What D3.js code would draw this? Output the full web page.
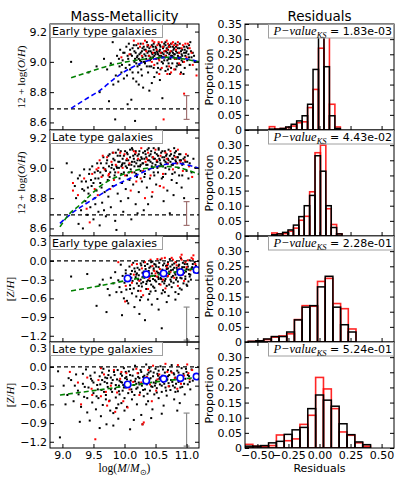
<!DOCTYPE html>
<html><head><meta charset="utf-8">
<script src="https://cdn.jsdelivr.net/npm/d3@7"></script>
<style>
body{margin:0;background:#fff;}
svg{display:block;}
</style></head><body>
<svg id="c" width="415" height="485"></svg>
<script>
// ---------------- DATA ----------------
const massTicks = [9.0, 9.5, 10.0, 10.5, 11.0];
const ohTicks = [8.6, 8.8, 9.0, 9.2];
const zhTicks = [-1.2, -0.9, -0.6, -0.3, 0.0, 0.3];
const propTicks = [0, 0.05, 0.10, 0.15, 0.20, 0.25, 0.30, 0.35];
const resTicks = [-0.5, -0.25, 0, 0.25, 0.5];
const panelLabels = ["Early type galaxies", "Late type galaxies", "Early type galaxies", "Late type galaxies"];
const pValues = ["1.83e-03", "4.43e-02", "2.28e-01", "5.24e-01"];

const earlyOHBlack = [
[9.14,9.00],[9.42,8.93],[9.55,8.97],[9.60,8.80],[9.67,9.02],[9.72,8.95],[9.75,8.74],[9.78,8.99],[9.81,9.13],[9.82,8.85],[9.85,8.62],[9.86,8.91],[9.88,9.04],[9.90,8.87],[9.92,8.97],[9.93,9.08],[9.95,8.93],[9.97,9.01],[9.99,8.89],[10.00,9.06],
[10.02,8.96],[10.03,9.10],[10.05,8.72],[10.06,9.02],[10.08,8.98],[10.09,9.08],[10.11,8.75],[10.12,9.04],[10.13,8.93],[10.14,8.89],[10.15,9.11],[10.16,9.00],[10.17,8.61],[10.18,9.06],[10.19,8.87],[10.20,9.03],[10.21,8.97],[10.22,9.09],[10.23,8.85],[10.24,9.05],
[10.25,9.01],[10.26,9.12],[10.27,8.95],[10.28,9.07],[10.29,9.03],[10.30,8.83],[10.31,9.10],[10.32,9.05],[10.33,8.99],[10.34,9.08],[10.35,9.02],[10.36,9.13],[10.37,9.06],[10.38,8.93],[10.39,9.04],[10.40,9.09],[10.41,9.01],[10.42,9.07],[10.43,8.97],[10.44,9.11],
[10.45,9.05],[10.46,9.03],[10.47,9.08],[10.48,8.90],[10.49,9.06],[10.50,9.10],[10.51,9.02],[10.52,9.07],[10.53,8.99],[10.54,9.05],[10.55,9.12],[10.56,9.04],[10.57,9.08],[10.58,8.95],[10.59,9.06],[10.60,9.03],[10.61,8.76],[10.62,9.09],[10.63,9.05],[10.64,9.01],
[10.65,9.07],[10.66,9.11],[10.67,9.04],[10.68,8.97],[10.69,9.06],[10.70,9.08],[10.71,9.02],[10.72,9.05],[10.73,8.92],[10.74,9.10],[10.75,9.04],[10.76,9.07],[10.77,8.99],[10.78,9.06],[10.79,9.03],[10.80,9.09],[10.81,9.05],[10.82,8.95],[10.83,9.07],[10.84,9.02],
[10.85,9.11],[10.86,9.04],[10.87,8.98],[10.88,9.06],[10.89,9.09],[10.90,9.03],[10.91,8.93],[10.92,9.05],[10.93,9.08],[10.94,9.00],[10.96,9.06],[10.97,8.96],[10.98,9.04],[11.00,9.07],[11.01,9.01],[11.03,9.05],[11.05,8.98],[11.06,9.13],[11.08,9.03],[11.10,9.06],
[11.13,9.00],[11.16,8.95],[10.28,8.91],[10.44,8.86],[10.52,8.93],[10.57,8.88],[10.66,8.94],[10.36,8.97],[10.40,8.81],[10.22,8.93],[10.62,8.99],[10.75,8.96],[10.85,8.99],[10.95,8.92],[10.71,8.99],[10.47,8.96],[10.33,9.00],[10.19,8.99],[10.05,9.04],[9.98,9.06],
[10.16,9.07],[10.19,9.11],[10.23,9.02],[10.26,9.06],[10.29,9.09],[10.31,9.00],[10.34,9.04],[10.37,9.10],[10.39,9.07],[10.42,9.03],[10.44,9.06],[10.46,9.10],[10.48,9.04],[10.51,9.09],[10.53,9.06],[10.55,9.02],[10.57,9.11],[10.59,9.04],[10.61,9.06],[10.63,9.10],
[10.65,9.03],[10.67,9.07],[10.69,9.01],[10.71,9.10],[10.73,9.06],[10.75,9.12],[10.77,9.04],[10.79,9.08],[10.81,9.02],[10.83,9.10],[10.85,9.06],[10.87,9.03],[10.89,9.12],[10.91,9.07],[10.93,9.04],[10.96,9.10],[10.99,9.06],[11.02,9.09],[11.04,9.03],[11.07,9.07],
[10.21,9.04],[10.32,9.08],[10.43,9.02],[10.50,9.05],[10.56,9.07],[10.62,9.03],[10.68,9.09],[10.74,9.02],[10.80,9.05],[10.86,9.09],[10.92,9.01],[10.97,9.08],[10.27,9.00],[10.38,9.11],[10.47,9.12],[10.58,9.10],[10.64,9.12],[10.78,9.10],[10.88,9.02],[11.00,9.10],
[10.24,8.98],[10.40,8.97],[10.54,8.96],[10.70,8.95],[10.84,8.97],[11.04,9.11],[11.12,9.04],[10.17,9.02],[10.13,9.09],[10.10,9.05],[10.60,9.00],[10.66,9.13],[10.72,9.11],[10.82,9.12],[10.90,8.98],[9.96,8.98],[10.04,8.91],[10.09,8.95],[9.91,9.02],[10.07,9.12]
];
const earlyOHRed = [
[10.08,9.05],[10.15,9.14],[10.25,9.10],[10.30,9.12],[10.35,9.07],[10.40,9.04],[10.42,9.10],[10.45,9.14],[10.48,8.98],[10.50,9.02],[10.52,9.08],[10.55,9.13],[10.58,9.06],[10.60,8.96],[10.62,9.10],[10.63,8.62],[10.66,9.04],[10.70,9.12],[10.72,8.97],[10.74,9.07],
[10.75,8.93],[10.78,9.13],[10.80,8.95],[10.82,9.02],[10.85,9.11],[10.88,9.06],[10.90,8.92],[10.92,9.09],[10.96,9.00],[10.96,8.79],[10.98,9.12],[11.00,9.03],[11.05,9.09],[11.10,8.98],[11.16,8.91],[10.38,9.01],[10.68,9.08],[10.46,9.06],[10.56,9.01],[10.83,9.08],
[10.28,9.04],[9.95,9.03],[10.22,9.12],[10.33,9.14],[10.37,9.11],[10.48,9.13],[10.53,9.11],[10.60,9.13],[10.68,9.14],[10.72,9.10],[10.76,9.12],[10.80,9.11],[10.86,9.13],[10.94,9.11],[11.02,9.12],[10.64,9.07],[10.44,9.00],[10.88,8.99],[11.08,9.06],[10.56,8.92],[10.69,8.92]
];
const earlyOHGreen = [[9.14,8.895],[9.4,8.93],[9.6,8.957],[9.8,8.98],[10.0,8.998],[10.3,9.017],[10.5,9.027],[10.7,9.03],[10.9,9.022],[11.2,9.0]];
const earlyOHBlue = [[9.14,8.693],[9.4,8.76],[9.6,8.81],[9.87,8.90],[10.14,8.968],[10.41,9.012],[10.68,9.03],[10.95,9.023],[11.2,9.0]];

const lateOHBlack = [
[9.07,9.03],[9.15,8.97],[9.20,8.88],[9.22,8.80],[9.25,8.93],[9.26,8.63],[9.28,8.95],[9.30,8.72],[9.32,8.86],[9.33,8.60],[9.35,8.99],[9.37,8.78],[9.38,8.91],[9.40,8.69],[9.42,8.83],[9.43,8.96],[9.45,8.74],[9.47,8.88],[9.48,9.01],[9.50,8.66],
[9.52,8.80],[9.53,8.93],[9.55,8.85],[9.57,8.98],[9.58,8.71],[9.60,8.62],[9.61,8.90],[9.62,9.03],[9.64,8.77],[9.65,8.95],[9.66,9.07],[9.68,8.84],[9.69,8.99],[9.70,8.68],[9.72,9.05],[9.73,8.92],[9.74,8.81],[9.76,9.09],[9.77,8.97],[9.78,8.74],
[9.80,9.02],[9.81,8.88],[9.82,9.06],[9.84,8.95],[9.85,8.65],[9.86,9.10],[9.87,8.59],[9.88,9.00],[9.89,8.83],[9.90,9.04],[9.92,8.93],[9.93,9.08],[9.94,8.78],[9.95,9.01],[9.96,8.90],[9.97,9.06],[9.98,8.71],[9.99,8.97],[10.00,9.03],[10.01,9.11],
[10.02,8.86],[10.03,9.05],[10.04,8.95],[10.05,9.09],[10.06,8.80],[10.07,9.02],[10.08,8.92],[10.09,9.07],[10.10,8.99],[10.11,8.66],[10.12,9.04],[10.13,9.12],[10.14,8.89],[10.15,9.06],[10.16,8.97],[10.17,9.09],[10.18,8.76],[10.19,9.03],[10.20,8.94],[10.21,9.08],
[10.22,9.01],[10.23,8.84],[10.24,9.11],[10.25,9.05],[10.26,8.98],[10.27,9.07],[10.28,8.91],[10.29,9.03],[10.30,9.10],[10.31,8.72],[10.32,9.06],[10.33,8.96],[10.34,9.09],[10.35,9.02],[10.36,8.87],[10.37,9.12],[10.38,9.05],[10.39,8.99],[10.40,9.08],[10.41,8.93],
[10.42,9.04],[10.43,9.11],[10.44,8.81],[10.45,9.07],[10.46,9.00],[10.47,9.13],[10.48,8.95],[10.49,9.06],[10.50,9.02],[10.51,8.89],[10.52,9.09],[10.53,9.04],[10.54,8.97],[10.55,9.12],[10.56,9.06],[10.57,8.88],[10.58,9.03],[10.59,9.10],[10.60,8.93],[10.61,9.07],
[10.62,9.01],[10.63,8.78],[10.64,9.05],[10.65,9.11],[10.66,8.96],[10.67,9.08],[10.68,9.03],[10.69,8.85],[10.70,9.06],[10.71,9.12],[10.72,8.99],[10.73,8.70],[10.74,9.04],[10.75,9.09],[10.76,8.92],[10.77,9.06],[10.78,9.02],[10.79,8.82],[10.80,9.08],[10.81,8.97],
[10.82,9.05],[10.83,9.11],[10.84,8.90],[10.85,9.03],[10.86,9.07],[10.88,8.95],[10.89,9.05],[10.90,9.09],[10.92,8.87],[10.93,9.02],[10.95,9.06],[10.96,8.80],[10.98,9.04],[11.00,8.98],[11.02,9.08],[11.03,8.93],[11.05,9.03],[11.08,8.97],[11.11,9.06],[11.14,9.00],
[9.70,8.98],[9.75,9.01],[9.83,8.99],[9.91,9.00],[9.96,9.02],[10.04,9.00],[10.16,9.01],[10.26,9.02],[10.44,9.01],[10.53,9.00],[10.66,9.00],[10.87,9.00],[9.58,8.93],[9.63,8.87],[9.46,8.92],[9.41,8.87],[9.53,8.76],[9.67,8.72],[10.21,8.70],[10.38,8.76],
[9.71,9.03],[9.74,9.08],[9.79,9.00],[9.81,9.10],[9.84,9.05],[9.87,9.01],[9.89,9.08],[9.92,9.04],[9.94,9.11],[9.97,9.03],[9.99,9.08],[10.02,9.01],[10.04,9.10],[10.06,9.05],[10.09,9.12],[10.11,9.02],[10.14,9.08],[10.16,9.04],[10.18,9.11],[10.21,9.05],
[10.23,9.09],[10.25,9.01],[10.28,9.06],[10.30,9.03],[10.33,9.11],[10.35,9.07],[10.37,9.02],[10.40,9.05],[10.42,9.09],[10.45,9.03],[10.47,9.06],[10.49,9.10],[10.52,9.04],[10.54,9.08],[10.57,9.05],[10.59,9.02],[10.61,9.11],[10.64,9.07],[10.66,9.04],[10.68,9.09],
[10.71,9.05],[10.73,9.08],[10.76,9.02],[10.78,9.06],[10.81,9.10],[10.83,9.04],[10.85,9.07],[10.88,9.09],[10.91,9.05],[10.94,9.03],[10.97,9.07],[11.01,9.04],[9.76,8.94],[9.85,8.97],[9.95,8.96],[10.07,8.97],[10.19,8.96],[10.32,8.94],[10.47,8.97],[10.62,8.94],
[10.77,8.96],[10.93,8.95],[9.66,9.00],[9.61,8.97],[9.56,9.03],[9.52,8.97],[9.44,8.99],[9.50,8.90],[9.35,8.85],[9.31,8.91],[10.55,9.13],[10.39,9.13],[10.80,9.13],[10.12,9.13],[9.90,9.12]
];
const lateOHRed = [
[9.17,8.90],[9.17,8.85],[9.25,8.82],[9.44,8.64],[9.35,8.93],[9.48,8.96],[9.55,8.99],[9.60,9.05],[9.63,8.94],[9.68,8.99],[9.72,9.07],[9.75,8.96],[9.79,9.04],[9.83,8.92],[9.86,9.02],[9.90,8.97],[9.93,9.10],[9.97,9.00],[10.01,8.95],[10.04,9.06],
[10.08,9.03],[10.12,8.97],[10.15,9.11],[10.19,8.91],[10.22,9.06],[10.27,9.13],[10.30,8.98],[10.34,9.04],[10.38,9.10],[10.42,8.95],[10.46,9.07],[10.50,9.12],[10.55,9.01],[10.58,9.08],[10.62,8.96],[10.66,9.10],[10.70,9.03],[10.74,9.11],[10.78,8.99],[10.82,9.07],
[10.86,9.12],[10.90,9.04],[10.94,8.98],[10.99,9.09],[11.04,9.01],[11.09,8.94],[9.57,8.82],[9.77,8.86],[10.10,8.85],[10.33,8.80],[9.39,8.73],[10.57,8.88],
[9.65,9.08],[9.82,9.10],[10.00,9.09],[10.18,9.10],[10.36,9.06],[10.52,9.05],[10.68,9.06],[10.84,9.03],[10.97,9.05],[9.58,9.00],[9.74,8.95],[10.26,8.93],[10.63,8.87],[9.52,8.86],[10.45,8.84]
];
const lateOHGreen = [[8.96,8.61],[9.1,8.69],[9.28,8.755],[9.45,8.82],[9.6,8.876],[9.77,8.92],[9.93,8.95],[10.1,8.975],[10.25,8.99],[10.4,9.0],[10.57,9.01],[10.75,9.008],[10.89,9.0],[11.05,8.98],[11.2,8.957]];
const lateOHBlue = [[8.96,8.634],[9.15,8.70],[9.39,8.766],[9.6,8.82],[9.77,8.865],[9.95,8.905],[10.14,8.94],[10.33,8.978],[10.52,9.008],[10.7,9.025],[10.84,9.03],[11.0,9.02],[11.2,8.997]];

const earlyZHBlack = [
[9.14,-0.25],[9.40,-0.21],[9.55,-0.72],[9.60,-0.38],[9.65,-0.30],[9.71,-0.82],[9.73,-0.45],[9.76,-0.55],[9.78,-0.27],[9.82,-0.36],[9.85,-0.18],[9.87,-0.50],[9.90,-0.31],[9.92,-0.42],[9.94,-0.06],[9.96,-0.87],[9.97,-0.24],[9.99,-0.60],[10.00,-0.35],[10.02,-0.15],
[10.03,-0.46],[10.05,-0.28],[10.06,-0.68],[10.08,-0.09],[10.09,-0.39],[10.10,-0.21],[10.12,-0.52],[10.13,-0.32],[10.14,-0.03],[10.15,-0.44],[10.17,-0.17],[10.18,-0.26],[10.19,-0.57],[10.20,-0.36],[10.21,-0.11],[10.22,-0.48],[10.23,-0.23],[10.25,-0.63],[10.26,-0.30],[10.27,-0.07],
[10.28,-0.41],[10.29,-0.19],[10.30,-0.34],[10.31,-0.02],[10.32,-0.27],[10.33,-0.95],[10.34,-0.13],[10.35,-0.45],[10.36,-0.22],[10.37,-0.05],[10.38,-0.31],[10.39,-0.16],[10.40,-0.53],[10.41,-0.25],[10.42,-0.09],[10.43,-0.38],[10.44,-0.20],[10.45,-0.01],[10.46,-0.29],[10.47,-0.12],
[10.48,-0.43],[10.49,-0.24],[10.50,-0.06],[10.51,-0.33],[10.52,-0.17],[10.53,-0.61],[10.54,-0.26],[10.55,-0.10],[10.56,-0.37],[10.57,-0.20],[10.58,0.02],[10.59,-0.29],[10.60,-1.08],[10.61,-0.14],[10.62,-0.47],[10.63,-0.23],[10.64,-0.04],[10.65,-0.32],[10.66,-0.18],[10.67,-0.08],
[10.68,-0.40],[10.69,-0.25],[10.70,-0.12],[10.71,-0.56],[10.72,-0.21],[10.73,0.03],[10.74,-0.30],[10.75,-0.15],[10.76,-0.42],[10.77,-0.06],[10.78,-0.24],[10.79,-0.35],[10.80,-0.11],[10.81,-0.19],[10.82,-0.50],[10.83,-0.02],[10.84,-0.27],[10.85,-0.14],[10.86,-0.33],[10.87,-0.08],
[10.88,-0.22],[10.89,-0.44],[10.90,-0.16],[10.91,0.04],[10.92,-0.28],[10.93,-0.10],[10.95,-0.36],[10.96,-0.19],[10.97,-0.05],[10.98,-0.25],[11.00,-0.13],[11.01,-0.40],[11.02,-0.09],[11.04,-0.21],[11.05,0.01],[11.07,-0.30],[11.08,-0.12],[11.10,-0.05],[11.12,-0.18],[11.15,-0.08],
[10.16,-0.74],[10.24,-0.85],[10.44,-0.70],[10.55,-0.78],[10.68,-0.66],[10.27,-0.58],[9.95,-0.50],[10.04,-0.64],[10.38,-0.62],[10.82,-0.62],[10.50,-0.48],[10.60,-0.52],[10.35,-0.37],[10.46,-0.41],[10.64,-0.36],[10.72,-0.38],[10.92,-0.46],[11.03,-0.33],[10.11,-0.27],[10.02,-0.20],
[10.16,-0.12],[10.19,-0.22],[10.22,-0.30],[10.24,-0.14],[10.26,-0.04],[10.29,-0.26],[10.31,-0.17],[10.33,-0.08],[10.36,-0.33],[10.38,-0.20],[10.40,-0.11],[10.43,-0.02],[10.45,-0.24],[10.47,-0.15],[10.49,-0.31],[10.51,-0.09],[10.54,-0.19],[10.56,-0.03],[10.58,-0.27],[10.60,-0.16],
[10.62,-0.07],[10.64,-0.21],[10.66,-0.29],[10.68,-0.13],[10.70,-0.02],[10.72,-0.17],[10.74,-0.09],[10.76,-0.26],[10.78,-0.14],[10.80,-0.04],[10.82,-0.22],[10.84,-0.11],[10.86,-0.18],[10.88,-0.06],[10.90,-0.27],[10.92,-0.13],[10.94,-0.03],[10.96,-0.10],[10.99,-0.17],[11.01,-0.05],
[11.03,-0.14],[11.06,-0.22],[11.09,-0.10],[11.13,-0.02],[10.20,-0.20],[10.27,-0.36],[10.34,-0.25],[10.41,-0.32],[10.48,-0.05],[10.55,-0.29],[10.61,-0.33],[10.69,-0.07],[10.75,-0.33],[10.83,-0.30],[10.91,-0.20],[10.98,-0.29],[11.05,-0.25],[10.12,-0.16],[10.07,-0.24],[10.09,-0.45],
[10.23,-0.40],[10.42,-0.49],[10.65,-0.50],[10.87,-0.53],[11.00,-0.38]
];
const earlyZHRed = [
[9.90,-0.02],[10.20,-0.05],[10.28,-0.12],[10.33,-0.02],[10.40,-0.28],[10.45,-0.08],[10.50,-0.20],[10.53,0.03],[10.57,-0.13],[10.62,-0.30],[10.65,0.05],[10.70,-0.05],[10.74,-0.18],[10.78,0.02],[10.80,-0.27],[10.84,-0.07],[10.88,-0.12],[10.90,0.06],[10.94,-0.22],[10.98,-0.02],
[11.02,0.01],[11.06,-0.15],[11.10,0.03],[11.11,0.09],[11.14,-0.05],[10.01,-0.65],[10.02,-0.40],[10.12,-0.35],[10.26,-0.48],[10.38,-0.45],[10.58,-0.38],[10.66,-0.44],[10.86,-0.40],[10.96,-0.32],[10.48,-0.16],[10.24,-0.32],[10.70,-0.24],[10.12,-0.06],
[10.42,0.02],[10.60,0.04],[10.68,-0.10],[10.76,0.05],[10.82,-0.02],[10.92,0.02],[11.00,-0.10],[11.08,0.05],[10.52,-0.25],[10.36,-0.18],[10.92,0.10],[11.12,-0.12],[10.30,-0.55],[10.15,-0.22]
];
const earlyZHGreen = [[9.14,-0.48],[9.6,-0.40],[10.0,-0.32],[10.5,-0.23],[11.16,-0.12]];
const earlyZHCircles = [[10.05,-0.28],[10.35,-0.215],[10.63,-0.20],[10.90,-0.18],[11.16,-0.145]];

const lateZHBlack = [
[8.93,-0.07],[8.96,-1.13],[9.02,-0.30],[9.08,-0.45],[9.14,-0.21],[9.18,-0.55],[9.22,-0.12],[9.25,-0.38],[9.28,-0.88],[9.30,-0.64],[9.33,-0.27],[9.35,-0.48],[9.38,-0.04],[9.40,-0.73],[9.42,-0.33],[9.44,-0.86],[9.46,-0.19],[9.48,-0.57],[9.50,-0.42],[9.52,-0.09],
[9.54,-0.68],[9.56,-0.29],[9.58,-0.50],[9.60,-0.15],[9.62,-0.79],[9.63,-0.37],[9.65,-0.61],[9.66,-0.03],[9.68,-0.24],[9.70,-0.45],[9.71,-0.92],[9.73,-0.32],[9.74,-0.13],[9.76,-0.54],[9.77,-0.70],[9.79,-0.26],[9.80,-0.40],[9.82,-0.74],[9.83,-0.08],[9.85,-0.35],
[9.86,-0.49],[9.87,-0.66],[9.88,-0.20],[9.90,-0.83],[9.91,-0.30],[9.92,-0.44],[9.94,-0.11],[9.95,-0.58],[9.96,-0.25],[9.97,-0.38],[9.99,-0.02],[10.00,-0.50],[10.01,-0.18],[10.02,-0.33],[10.04,-0.64],[10.05,-0.27],[10.06,-0.42],[10.07,-0.07],[10.09,-1.00],[10.10,-0.22],
[10.11,-0.36],[10.12,-0.52],[10.13,-0.14],[10.15,-0.29],[10.16,-0.45],[10.17,0.02],[10.18,-0.19],[10.20,-0.60],[10.21,-0.33],[10.22,-0.10],[10.23,-0.25],[10.25,-0.41],[10.26,-0.05],[10.27,-0.77],[10.28,-0.30],[10.30,-0.16],[10.31,-0.47],[10.32,-0.23],[10.33,-0.36],[10.35,0.04],
[10.36,-0.28],[10.37,-0.12],[10.38,-0.55],[10.40,-0.20],[10.41,-0.38],[10.42,-0.07],[10.43,-0.31],[10.45,-0.68],[10.46,-0.15],[10.47,-0.25],[10.48,-0.44],[10.50,-0.03],[10.51,-0.22],[10.52,-0.34],[10.53,-0.11],[10.55,-0.50],[10.56,-0.19],[10.57,-0.28],[10.58,0.01],[10.60,-0.40],
[10.61,-0.14],[10.62,-0.24],[10.63,-0.62],[10.65,-0.09],[10.66,-0.33],[10.67,-0.18],[10.68,-0.46],[10.70,-0.05],[10.71,-0.26],[10.72,-0.13],[10.74,-0.37],[10.75,-0.21],[10.76,0.03],[10.78,-0.30],[10.79,-0.10],[10.80,-0.52],[10.82,-0.17],[10.83,-0.27],[10.85,-0.06],[10.86,-0.39],
[10.88,-0.14],[10.89,-0.58],[10.90,-0.23],[10.92,-0.02],[10.93,-0.32],[10.95,-0.11],[10.97,-0.44],[10.98,-0.19],[11.00,-0.08],[11.02,-0.28],[11.04,-0.15],[11.06,-0.36],[11.08,-0.04],[11.10,-0.22],[9.82,-0.94],[9.87,-0.66],[10.29,-0.92],[9.60,-0.98],[10.15,-0.85],[10.43,-0.82],
[9.50,-0.25],[9.64,-0.21],[9.78,-0.17],[9.92,-0.22],[10.03,-0.16],[10.19,-0.27],[10.34,-0.19],[10.49,-0.30],[10.64,-0.27],[10.81,-0.33],[9.36,-0.32],[9.45,-0.14],[9.57,-0.36],[9.72,-0.18],[9.98,-0.29],[10.24,-0.18],[10.39,-0.09],[10.54,-0.14],[10.69,-0.20],[10.87,-0.24],
[9.61,-0.28],[9.64,-0.09],[9.67,-0.40],[9.69,-0.17],[9.72,-0.26],[9.75,-0.06],[9.78,-0.36],[9.81,-0.21],[9.84,-0.13],[9.86,-0.29],[9.89,-0.05],[9.91,-0.39],[9.94,-0.24],[9.96,-0.14],[9.99,-0.33],[10.02,-0.08],[10.04,-0.20],[10.07,-0.30],[10.09,-0.13],[10.12,-0.40],
[10.14,-0.04],[10.17,-0.23],[10.19,-0.35],[10.22,-0.16],[10.24,-0.28],[10.27,-0.08],[10.30,-0.37],[10.32,-0.14],[10.35,-0.24],[10.37,-0.43],[10.40,-0.02],[10.42,-0.18],[10.45,-0.32],[10.47,-0.09],[10.50,-0.26],[10.52,-0.41],[10.55,-0.06],[10.57,-0.17],[10.60,-0.30],[10.62,-0.04],
[10.65,-0.22],[10.67,-0.38],[10.70,-0.15],[10.72,-0.31],[10.75,-0.07],[10.77,-0.24],[10.80,-0.12],[10.82,-0.40],[10.85,-0.20],[10.87,-0.09],[10.90,-0.33],[10.93,-0.16],[10.96,-0.27],[10.99,-0.03],[11.02,-0.13],[11.05,-0.24],[9.55,-0.47],[9.48,-0.22],[9.40,-0.50],[9.33,-0.11],
[9.26,-0.44],[9.20,-0.30],[9.10,-0.18],[9.05,-0.60],[9.70,-0.52],[10.00,-0.70],[10.35,-0.60],[10.60,-0.75],[10.85,-0.70],[9.90,-0.60]
];
const lateZHRed = [
[9.12,-0.08],[9.25,-0.25],[9.30,-0.60],[9.40,-0.17],[9.47,-0.35],[9.53,-1.16],[9.58,-0.21],[9.62,-0.47],[9.67,-0.12],[9.72,-0.62],[9.78,-0.30],[9.83,-0.05],[9.88,-0.41],[9.93,-0.19],[9.98,-0.55],[10.03,-0.10],[10.08,-0.36],[10.14,-0.24],[10.19,-0.03],[10.24,-0.45],
[10.29,-0.92],[10.31,-0.89],[10.36,-0.16],[10.41,-0.28],[10.46,0.02],[10.51,-0.38],[10.56,-0.12],[10.61,-0.22],[10.66,0.05],[10.71,-0.31],[10.76,-0.09],[10.81,-0.18],[10.86,0.03],[10.91,-0.27],[10.96,-0.14],[11.01,0.04],[11.05,-0.20],[11.09,-0.05],[10.05,-0.65],[9.85,-0.72],
[10.44,-0.55],[9.70,-0.40],[9.62,-0.02],[9.95,-0.08],[10.21,-0.10],[10.38,-0.05],[10.53,-0.20],[10.69,-0.08],[10.88,-0.15],[11.03,-0.10],[9.48,-0.45],[9.75,-0.55],[10.27,-0.25],[10.85,-0.35]
];
const lateZHGreen = [[8.96,-0.45],[9.5,-0.38],[10.0,-0.31],[10.5,-0.24],[11.16,-0.17]];
const lateZHCircles = [[10.05,-0.28],[10.35,-0.22],[10.63,-0.19],[10.90,-0.18],[11.16,-0.155]];

const ohSolarLine = 8.69;
const zhSolarLine = 0.0;
const ohErrorBar = [11.0, 8.62, 8.777];
const zhErrorBar = [11.0, -1.27, -0.74];

const histBinStart = [-0.404, -0.384, -0.574, -0.60];
const histBinWidth = [0.044, 0.0435, 0.062, 0.0632];
const hist1Black = [0.003,0.003,0.005,0.010,0.019,0.030,0.047,0.085,0.200,0.310,0.209,0.047,0.005];
const hist1Red   = [0.011,0.003,0.005,0.008,0.013,0.024,0.027,0.074,0.134,0.270,0.360,0.085,0.010];
const hist2Black = [0.004,0.007,0.012,0.020,0.036,0.064,0.100,0.134,0.265,0.214,0.100,0.028,0.007];
const hist2Red   = [0.010,0.007,0.008,0.016,0.026,0.052,0.065,0.146,0.275,0.300,0.090,0.038,0.007];
const hist3Black = [0.002,0.004,0.010,0.018,0.018,0.033,0.073,0.115,0.120,0.182,0.217,0.115,0.057,0.033];
const hist3Red   = [0.002,0.004,0.008,0.016,0.020,0.027,0.074,0.120,0.118,0.200,0.210,0.127,0.110,0.043];
const hist4Black = [0.006,0.006,0.008,0.017,0.022,0.045,0.060,0.068,0.130,0.175,0.158,0.138,0.080,0.044,0.020,0.011];
const hist4Red   = [0.012,0.006,0.006,0.008,0.043,0.024,0.030,0.078,0.108,0.233,0.195,0.130,0.053,0.042,0.017,0.006];

// ---------------- LAYOUT ----------------
const svg = d3.select("#c");
const SANS = "DejaVu Sans";
const SERIF = "Liberation Serif";
const colL = [50, 199], colR = [245, 394];
const top0 = 24, rowH = 106;
const rowTop = i => top0 + i * rowH;
const xMass = d3.scaleLinear([8.8, 11.2], colL);
const xRes = d3.scaleLinear([-0.6, 0.6], colR);

const defs = svg.append("defs");
function clip(id, x0, x1, y0, y1) {
  defs.append("clipPath").attr("id", id).append("rect")
    .attr("x", x0).attr("y", y0).attr("width", x1 - x0).attr("height", y1 - y0);
  return `url(#${id})`;
}

function styleAxis(g, showLabels) {
  g.select(".domain").remove();
  g.attr("font-family", SANS).attr("font-size", 11);
  g.selectAll(".tick line").attr("stroke", "#000").attr("stroke-width", 1);
  g.selectAll(".tick text").attr("fill", "#000");
  if (!showLabels) g.selectAll(".tick text").remove();
}

function axes(x, y, xt, yt, xFmt, yFmt, yLabelFilter, showX) {
  const [x0, x1] = x.range();
  const [y1, y0] = y.range();
  const gl = svg.append("g").attr("transform", `translate(${x0},0)`)
    .call(d3.axisLeft(y).tickValues(yt).tickSize(-4).tickSizeOuter(0).tickPadding(3).tickFormat(yFmt));
  styleAxis(gl, true);
  gl.selectAll(".tick").filter(d => !yLabelFilter(d)).select("text").remove();
  const gr = svg.append("g").attr("transform", `translate(${x1},0)`)
    .call(d3.axisRight(y).tickValues(yt).tickSize(-4).tickSizeOuter(0));
  styleAxis(gr, false);
  const gt = svg.append("g").attr("transform", `translate(0,${y0})`)
    .call(d3.axisTop(x).tickValues(xt).tickSize(-4).tickSizeOuter(0));
  styleAxis(gt, false);
  const gb = svg.append("g").attr("transform", `translate(0,${y1})`)
    .call(d3.axisBottom(x).tickValues(xt).tickSize(-4).tickSizeOuter(0).tickPadding(3).tickFormat(xFmt));
  styleAxis(gb, showX);
}

function frame(x0, x1, y0, y1) {
  svg.append("rect").attr("x", x0).attr("y", y0).attr("width", x1 - x0).attr("height", y1 - y0)
    .attr("fill", "none").attr("stroke", "#000").attr("stroke-width", 1);
}

const f1 = d3.format(".1f");
const f2 = d3.format(".2f");
const propFmt = d => d === 0 ? "0" : f2(d);

const scatterPanels = [
  {black: earlyOHBlack, red: earlyOHRed, green: earlyOHGreen, blue: earlyOHBlue, circles: null, dom: [8.55, 9.25], ticks: ohTicks, ref: ohSolarLine, err: ohErrorBar, errColor: "#a07272", type: "oh"},
  {black: lateOHBlack, red: lateOHRed, green: lateOHGreen, blue: lateOHBlue, circles: null, dom: [8.55, 9.25], ticks: ohTicks, ref: ohSolarLine, err: ohErrorBar, errColor: "#a07272", type: "oh"},
  {black: earlyZHBlack, red: earlyZHRed, green: earlyZHGreen, blue: null, circles: earlyZHCircles, dom: [-1.3, 0.4], ticks: zhTicks, ref: zhSolarLine, err: zhErrorBar, errColor: "#8a8a8a", type: "zh"},
  {black: lateZHBlack, red: lateZHRed, green: lateZHGreen, blue: null, circles: lateZHCircles, dom: [-1.3, 0.4], ticks: zhTicks, ref: zhSolarLine, err: zhErrorBar, errColor: "#8a8a8a", type: "zh"}
];
const histPanels = [
  {black: hist1Black, red: hist1Red},
  {black: hist2Black, red: hist2Red},
  {black: hist3Black, red: hist3Red},
  {black: hist4Black, red: hist4Red}
];

// ---------------- LEFT COLUMN ----------------
scatterPanels.forEach((p, i) => {
  const t = rowTop(i), b = t + rowH;
  const y = d3.scaleLinear(p.dom, [b, t]);
  const cp = clip("cl" + i, colL[0], colL[1], t, b);
  const g = svg.append("g").attr("clip-path", cp);
  g.selectAll(".kb").data(p.black).join("rect")
    .attr("x", d => xMass(d[0]) - 1).attr("y", d => y(d[1]) - 1).attr("width", 2).attr("height", 2).attr("fill", "#000");
  g.selectAll(".kr").data(p.red).join("rect")
    .attr("x", d => xMass(d[0]) - 1).attr("y", d => y(d[1]) - 1).attr("width", 2).attr("height", 2).attr("fill", "#ff0000");
  g.append("line").attr("x1", colL[0]).attr("x2", colL[1]).attr("y1", y(p.ref)).attr("y2", y(p.ref))
    .attr("stroke", "#000").attr("stroke-width", 1.2).attr("stroke-dasharray", "4,3");
  const line = d3.line().x(d => xMass(d[0])).y(d => y(d[1])).curve(d3.curveMonotoneX);
  if (p.blue) g.append("path").attr("d", line(p.blue)).attr("fill", "none").attr("stroke", "#0000ff").attr("stroke-width", 1.6).attr("stroke-dasharray", "5,3");
  g.append("path").attr("d", line(p.green)).attr("fill", "none").attr("stroke", "#008000").attr("stroke-width", 1.6).attr("stroke-dasharray", "5,3");
  const ex = xMass(p.err[0]);
  g.append("line").attr("x1", ex).attr("x2", ex).attr("y1", y(p.err[1])).attr("y2", y(p.err[2])).attr("stroke", p.errColor).attr("stroke-width", 1.2);
  [p.err[1], p.err[2]].forEach(v => g.append("line").attr("x1", ex - 3).attr("x2", ex + 3).attr("y1", y(v)).attr("y2", y(v)).attr("stroke", p.errColor).attr("stroke-width", 1.2));
  if (p.circles) g.selectAll(".cc").data(p.circles).join("circle")
    .attr("cx", d => xMass(d[0])).attr("cy", d => y(d[1])).attr("r", 3.2)
    .attr("fill", "#fff").attr("stroke", "#0000ff").attr("stroke-width", 1.6);
  axes(xMass, y, massTicks, p.ticks, f1, f1, () => true, i === 3);
  frame(colL[0], colL[1], t, b);
  svg.append("rect").attr("x", colL[0] + 0.5).attr("y", t + 0.5).attr("width", 112).attr("height", 13)
    .attr("fill", "#fff").attr("stroke", "#a0a0a0").attr("stroke-width", 1);
  svg.append("text").attr("x", colL[0] + 2).attr("y", t + 10.5).attr("font-family", SANS).attr("font-size", 11)
    .attr("fill", "#000").text(panelLabels[i]);
  const cy = (t + b) / 2;
  if (p.type === "oh") {
    const tx = svg.append("text").attr("transform", `translate(25,${cy}) rotate(-90)`).attr("text-anchor", "middle")
      .attr("font-family", SERIF).attr("font-size", 11).attr("fill", "#000");
    tx.append("tspan").text("12 + log(");
    tx.append("tspan").attr("font-style", "italic").text("O");
    tx.append("tspan").text("/");
    tx.append("tspan").attr("font-style", "italic").text("H");
    tx.append("tspan").text(")");
  } else {
    const tx = svg.append("text").attr("transform", `translate(14,${cy}) rotate(-90)`).attr("text-anchor", "middle")
      .attr("font-family", SERIF).attr("font-size", 11).attr("fill", "#000");
    tx.append("tspan").text("[");
    tx.append("tspan").attr("font-style", "italic").text("Z");
    tx.append("tspan").text("/");
    tx.append("tspan").attr("font-style", "italic").text("H");
    tx.append("tspan").text("]");
  }
});

// ---------------- RIGHT COLUMN ----------------
histPanels.forEach((p, i) => {
  const t = rowTop(i), b = t + rowH;
  const y = d3.scaleLinear([0, 0.35], [b, t]);
  const cp = clip("cr" + i, colR[0], colR[1], t, b);
  const g = svg.append("g").attr("clip-path", cp);
  const s = histBinStart[i], w = histBinWidth[i];
  g.selectAll(".hr").data(p.red).join("rect")
    .attr("x", (d, k) => xRes(s + k * w)).attr("width", (d, k) => xRes(s + (k + 1) * w) - xRes(s + k * w))
    .attr("y", d => y(d)).attr("height", d => y(0) - y(d))
    .attr("fill", "none").attr("stroke", "#ff0000").attr("stroke-width", 1.6).attr("stroke-opacity", 0.85);
  g.selectAll(".hk").data(p.black).join("rect")
    .attr("x", (d, k) => xRes(s + k * w)).attr("width", (d, k) => xRes(s + (k + 1) * w) - xRes(s + k * w))
    .attr("y", d => y(d)).attr("height", d => y(0) - y(d))
    .attr("fill", "none").attr("stroke", "#000").attr("stroke-width", 1.5);
  axes(xRes, y, resTicks, propTicks, f2, propFmt, d => i === 0 || d < 0.34, i === 3);
  frame(colR[0], colR[1], t, b);
  svg.append("rect").attr("x", 268.5).attr("y", t + 0.5).attr("width", 125).attr("height", 13.5)
    .attr("fill", "#fff").attr("stroke", "#a0a0a0").attr("stroke-width", 1);
  const tx = svg.append("text").attr("x", 392).attr("y", t + 11).attr("text-anchor", "end").attr("fill", "#000");
  tx.append("tspan").attr("font-family", SERIF).attr("font-style", "italic").attr("font-size", 12.5).text("P\u2212value");
  tx.append("tspan").attr("font-family", SERIF).attr("font-style", "italic").attr("font-size", 8.5).attr("dy", 3).text("KS");
  tx.append("tspan").attr("font-family", SANS).attr("font-size", 11).attr("dy", -3).text(" = " + pValues[i]);
  svg.append("text").attr("transform", `translate(213,${(t + b) / 2}) rotate(-90)`).attr("text-anchor", "middle")
    .attr("font-family", SANS).attr("font-size", 11).attr("fill", "#000").text("Proportion");
});

// ---------------- TITLES / X LABELS ----------------
svg.append("text").attr("x", 124.5).attr("y", 20.5).attr("text-anchor", "middle").attr("font-family", SANS)
  .attr("font-size", 13.5).attr("fill", "#000").text("Mass-Metallicity");
svg.append("text").attr("x", 319.5).attr("y", 20.5).attr("text-anchor", "middle").attr("font-family", SANS)
  .attr("font-size", 13.5).attr("fill", "#000").text("Residuals");
const xl = svg.append("text").attr("x", 124.5).attr("y", 472).attr("text-anchor", "middle")
  .attr("font-family", SERIF).attr("font-size", 11.5).attr("fill", "#000");
xl.append("tspan").text("log(");
xl.append("tspan").attr("font-style", "italic").text("M");
xl.append("tspan").text("/");
xl.append("tspan").attr("font-style", "italic").text("M");
xl.append("tspan").attr("font-size", 8).attr("dy", 2.5).text("\u2299");
xl.append("tspan").attr("dy", -2.5).text(")");
svg.append("text").attr("x", 319.5).attr("y", 471.5).attr("text-anchor", "middle").attr("font-family", SANS)
  .attr("font-size", 11).attr("fill", "#000").text("Residuals");
</script>
</body></html>
